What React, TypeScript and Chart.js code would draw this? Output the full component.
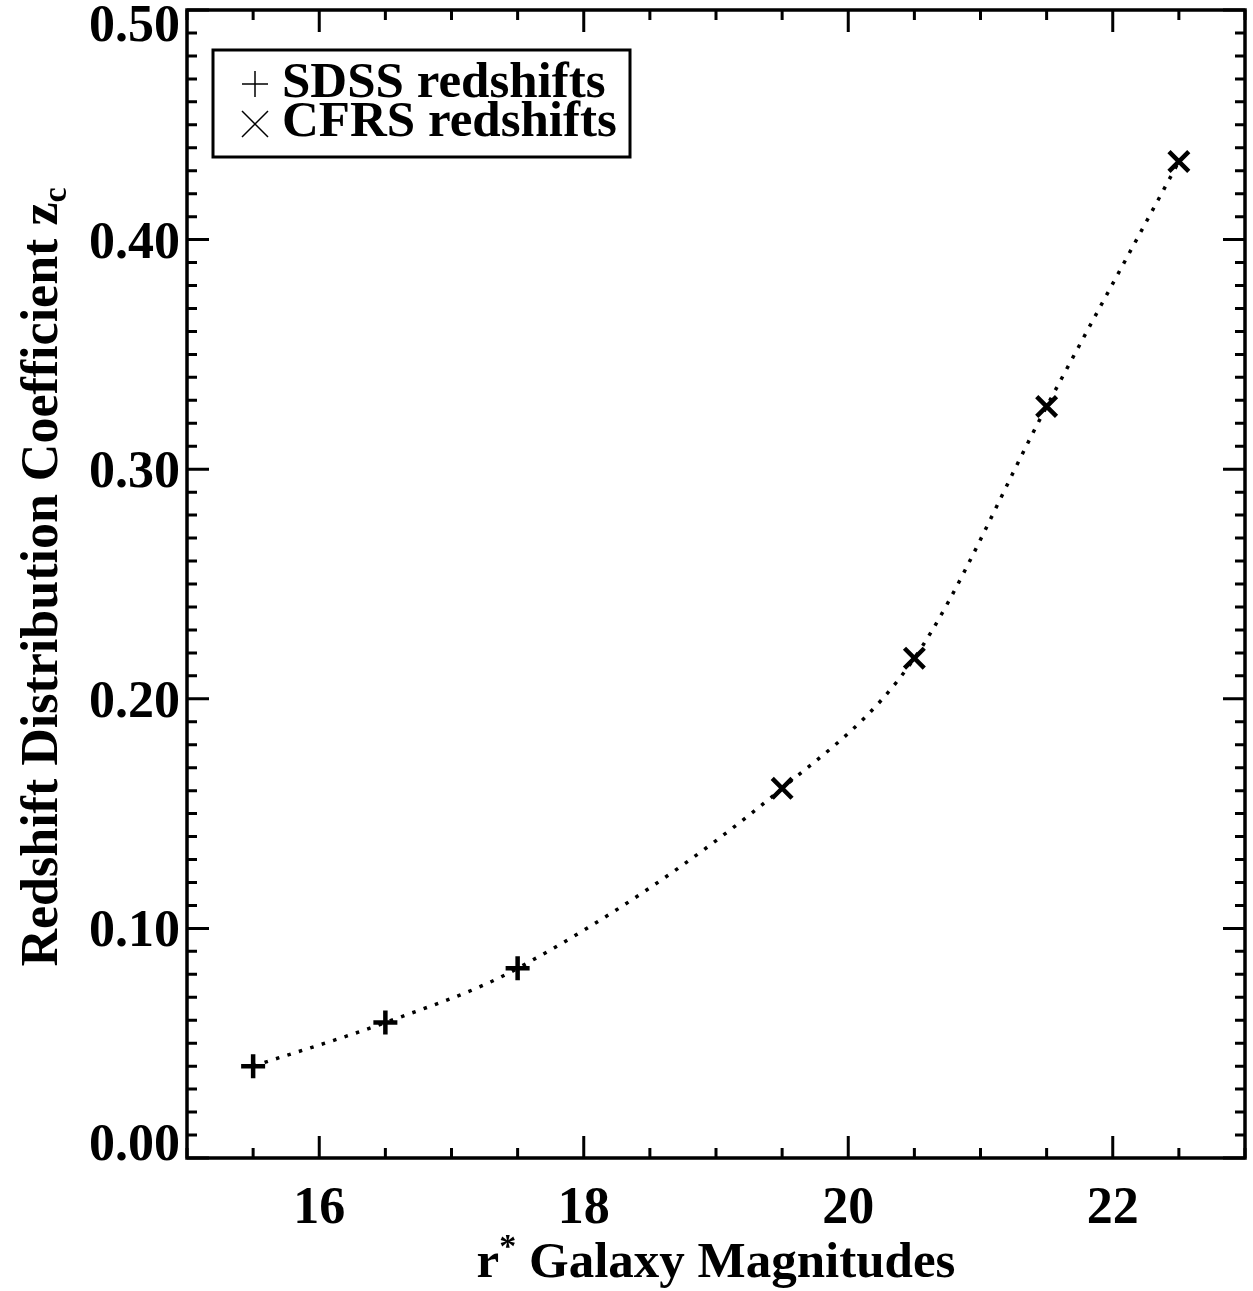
import React, { useEffect, useRef } from 'react';
import { Chart, registerables } from 'chart.js';

Chart.register(...registerables);

// ---- data ----
const sdssMag = [15.5, 16.5, 17.5];
const sdssZc = [0.04, 0.059, 0.0826];
const cfrsMag = [19.5, 20.5, 21.5, 22.5];
const cfrsZc = [0.161, 0.2177, 0.3273, 0.434];

const xTickValues = [16, 18, 20, 22];
const xTickLabels = ['16', '18', '20', '22'];
const yTickValues = [0, 0.1, 0.2, 0.3, 0.4, 0.5];
const yTickLabels = ['0.00', '0.10', '0.20', '0.30', '0.40', '0.50'];
const legendLabels = ['SDSS redshifts', 'CFRS redshifts'];

const FONT = '"Liberation Serif", "Times New Roman", serif';

const decorPlugin = {
  id: 'idlDecor',
  afterDraw(chart: any) {
    const ctx: CanvasRenderingContext2D = chart.ctx;
    const a = chart.chartArea;
    const xs = chart.scales.x;
    const ys = chart.scales.y;
    ctx.save();
    ctx.strokeStyle = '#000';
    ctx.fillStyle = '#000';
    ctx.lineCap = 'butt';

    // frame
    ctx.lineWidth = 3.5;
    ctx.strokeRect(a.left, a.top, a.right - a.left, a.bottom - a.top);

    // x ticks (bottom + top), minor every 0.5
    ctx.lineWidth = 3;
    for (let i = 0; i <= 16; i++) {
      const v = 15 + i * 0.5;
      const px = xs.getPixelForValue(v);
      const major = xTickValues.includes(v);
      const len = major ? 22 : 10;
      ctx.beginPath();
      ctx.moveTo(px, a.bottom);
      ctx.lineTo(px, a.bottom - len);
      ctx.moveTo(px, a.top);
      ctx.lineTo(px, a.top + len);
      ctx.stroke();
    }
    // y ticks (left + right), minor every 0.01
    for (let i = 0; i <= 50; i++) {
      const v = i / 100;
      const py = ys.getPixelForValue(v);
      const len = i % 10 === 0 ? 22 : 10;
      ctx.beginPath();
      ctx.moveTo(a.left, py);
      ctx.lineTo(a.left + len, py);
      ctx.moveTo(a.right, py);
      ctx.lineTo(a.right - len, py);
      ctx.stroke();
    }

    // tick labels
    ctx.font = `bold 52px ${FONT}`;
    ctx.textBaseline = 'alphabetic';
    ctx.textAlign = 'center';
    xTickValues.forEach((v, i) => {
      ctx.fillText(xTickLabels[i], xs.getPixelForValue(v), 1223);
    });
    ctx.textAlign = 'right';
    const h = 36;
    yTickValues.forEach((v, i) => {
      let yc = ys.getPixelForValue(v);
      if (yc - h / 2 < a.top - 5) yc = a.top - 5 + h / 2;
      if (yc + h / 2 > a.bottom + 2) yc = a.bottom + 2 - h / 2;
      ctx.fillText(yTickLabels[i], a.left - 7, yc + h / 2);
    });

    // x title: r^* Galaxy Magnitudes
    {
      const big = `bold 51px ${FONT}`;
      const small = `bold 34px ${FONT}`;
      ctx.textAlign = 'left';
      ctx.font = big;
      const w1 = ctx.measureText('r').width;
      const w3 = ctx.measureText(' Galaxy Magnitudes').width;
      ctx.font = small;
      const w2 = ctx.measureText('*').width;
      const total = w1 + w2 + w3;
      const cx = (a.left + a.right) / 2;
      let x = cx - total / 2;
      const base = 1277;
      ctx.font = big;
      ctx.fillText('r', x, base);
      x += w1;
      ctx.font = small;
      ctx.fillText('*', x, base - 20);
      x += w2;
      ctx.font = big;
      ctx.fillText(' Galaxy Magnitudes', x, base);
    }

    // y title: Redshift Distribution Coefficient z_c
    {
      const big = `bold 52px ${FONT}`;
      const small = `bold 34px ${FONT}`;
      const main = 'Redshift Distribution Coefficient z';
      ctx.font = big;
      const w1 = ctx.measureText(main).width;
      ctx.font = small;
      const w2 = ctx.measureText('c').width;
      const total = w1 + w2;
      ctx.translate(57, 577);
      ctx.rotate(-Math.PI / 2);
      ctx.textAlign = 'left';
      let x = -total / 2;
      ctx.font = big;
      ctx.fillText(main, x, 0);
      x += w1;
      ctx.font = small;
      ctx.fillText('c', x, 9);
      ctx.setTransform(1, 0, 0, 1, 0, 0);
    }

    // legend box
    ctx.lineWidth = 3;
    ctx.strokeRect(213, 50, 417, 107);
    ctx.lineWidth = 1.5;
    // plus
    ctx.beginPath();
    ctx.moveTo(242, 84);
    ctx.lineTo(268, 84);
    ctx.moveTo(255, 71);
    ctx.lineTo(255, 97);
    // cross
    ctx.moveTo(242, 111);
    ctx.lineTo(268, 137);
    ctx.moveTo(268, 111);
    ctx.lineTo(242, 137);
    ctx.stroke();
    ctx.font = `bold 51px ${FONT}`;
    ctx.textAlign = 'left';
    ctx.fillText(legendLabels[0], 282, 97);
    ctx.fillText(legendLabels[1], 282, 136);

    ctx.restore();
  },
};

export default function App() {
  const ref = useRef<HTMLCanvasElement | null>(null);
  useEffect(() => {
    if (!ref.current) return;
    const allMag = [...sdssMag, ...cfrsMag];
    const allZc = [...sdssZc, ...cfrsZc];
    const chart = new Chart(ref.current, {
      type: 'scatter',
      data: {
        datasets: [
          {
            label: 'fit',
            data: allMag.map((m, i) => ({ x: m, y: allZc[i] })),
            showLine: true,
            borderColor: '#000',
            borderWidth: 3.5,
            borderDash: [3.5, 8.5],
            borderCapStyle: 'butt',
            cubicInterpolationMode: 'monotone',
            pointRadius: 0,
            fill: false,
          },
          {
            label: legendLabels[0],
            data: sdssMag.map((m, i) => ({ x: m, y: sdssZc[i] })),
            pointStyle: 'cross',
            pointRadius: 12,
            borderWidth: 4.5,
            borderColor: '#000',
            backgroundColor: '#000',
            showLine: false,
          },
          {
            label: legendLabels[1],
            data: cfrsMag.map((m, i) => ({ x: m, y: cfrsZc[i] })),
            pointStyle: 'crossRot',
            pointRadius: 14,
            borderWidth: 4.5,
            borderColor: '#000',
            backgroundColor: '#000',
            showLine: false,
          },
        ],
      } as any,
      options: {
        animation: false,
        responsive: false,
        devicePixelRatio: 1,
        layout: { autoPadding: false, padding: { left: 187, top: 10, right: 8, bottom: 133 } },
        plugins: { legend: { display: false }, tooltip: { enabled: false } },
        scales: {
          x: { type: 'linear', min: 15, max: 23, display: false },
          y: { type: 'linear', min: 0, max: 0.5, display: false },
        },
      } as any,
      plugins: [decorPlugin],
    });
    return () => chart.destroy();
  }, []);
  return (
    <div style={{ position: 'absolute', left: 0, top: 0, width: 1253, height: 1291, background: '#fff' }}>
      <canvas ref={ref} width={1253} height={1291} />
    </div>
  );
}
